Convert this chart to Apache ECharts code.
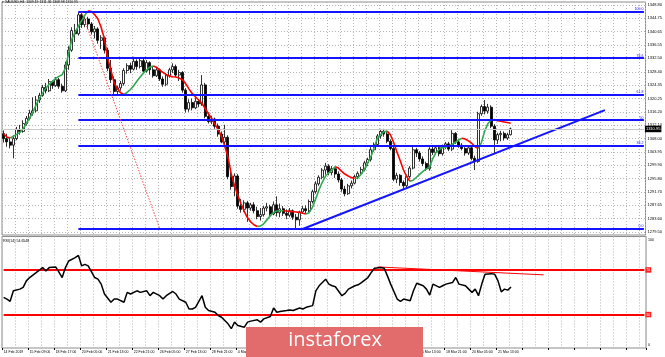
<!DOCTYPE html>
<html><head><meta charset="utf-8">
<script src="https://cdn.jsdelivr.net/npm/echarts@6/dist/echarts.min.js"></script>
<style>html,body{margin:0;padding:0;background:#fff}#c{width:665px;height:357px}</style>
</head><body><div id="c"></div>
<script>
// ---- data ----
const tickLabels = ['14 Feb 2019','15 Feb 09:00','18 Feb 17:00','20 Feb 05:00','21 Feb 13:00','22 Feb 21:00','26 Feb 05:00','27 Feb 13:00','28 Feb 21:00','4 Mar 05:00','5 Mar 13:00','6 Mar 21:00','8 Mar 05:00','11 Mar 13:00','12 Mar 21:00','14 Mar 05:00','15 Mar 13:00','18 Mar 21:00','20 Mar 05:00','21 Mar 13:00'];
const priceTicks = [1279.50,1283.60,1287.65,1291.70,1295.80,1299.90,1303.95,1308.00,1312.10,1316.20,1320.25,1324.35,1328.40,1332.50,1336.55,1340.65,1344.75,1348.80];
// [open, close, low, high]
const ohlc = [
[1309.5,1308.0,1306.8,1310.5],[1308.0,1307.0,1305.5,1309.5],[1307.0,1306.0,1305.0,1308.2],[1306.0,1308.0,1302.0,1309.0],
[1308.0,1310.8,1307.5,1311.6],[1310.8,1310.2,1309.2,1312.2],[1310.2,1312.6,1309.8,1313.6],[1312.6,1314.2,1312.0,1314.9],
[1314.2,1315.8,1313.6,1316.8],[1315.8,1316.5,1315.0,1320.6],[1316.5,1319.8,1316.0,1321.0],[1319.8,1321.2,1318.9,1322.0],
[1321.2,1323.6,1320.8,1324.4],[1323.6,1322.6,1321.8,1325.0],[1322.6,1325.4,1322.2,1326.2],[1325.4,1324.2,1323.2,1325.8],
[1324.2,1326.0,1323.8,1326.8],[1326.0,1324.0,1323.2,1326.5],[1324.0,1322.6,1322.0,1324.8],[1322.6,1330.5,1322.2,1331.5],
[1330.5,1335.0,1329.0,1336.2],[1335.0,1341.0,1334.5,1342.0],[1341.0,1340.0,1337.5,1343.0],[1340.0,1345.8,1339.5,1346.7],
[1345.8,1342.8,1341.8,1346.4],[1342.8,1344.5,1342.0,1345.4],[1344.5,1343.0,1341.5,1345.2],[1343.0,1340.6,1339.8,1343.6],
[1340.6,1341.5,1338.6,1342.4],[1341.5,1338.0,1337.0,1342.0],[1338.0,1338.8,1335.4,1339.6],[1338.8,1335.0,1334.0,1339.2],
[1335.0,1329.5,1328.6,1335.8],[1329.5,1326.0,1325.0,1332.0],[1326.0,1322.4,1321.2,1327.0],[1322.4,1323.5,1321.4,1324.2],
[1323.5,1324.8,1322.6,1325.6],[1324.8,1328.8,1324.2,1329.5],[1328.8,1330.3,1327.8,1331.0],[1330.3,1329.2,1328.0,1331.2],
[1329.2,1331.6,1328.8,1333.0],[1331.6,1330.0,1329.0,1332.2],[1330.0,1331.8,1329.4,1332.6],[1331.8,1328.6,1327.8,1332.6],
[1328.6,1331.2,1328.2,1332.0],[1331.2,1329.0,1327.5,1331.6],[1329.0,1327.2,1326.6,1330.0],[1327.2,1329.0,1326.8,1329.6],
[1329.0,1326.2,1325.6,1329.4],[1326.2,1324.6,1323.8,1327.0],[1324.6,1327.2,1324.0,1328.0],[1327.2,1329.0,1326.6,1329.6],
[1329.0,1330.0,1328.0,1331.0],[1330.0,1327.4,1326.8,1330.6],[1327.4,1328.2,1325.6,1329.0],[1328.2,1322.8,1322.0,1328.6],
[1322.8,1317.0,1316.0,1323.4],[1317.0,1319.0,1316.2,1320.0],[1319.0,1317.4,1316.6,1320.2],[1317.4,1319.4,1317.0,1320.6],
[1319.4,1318.6,1317.6,1320.0],[1318.6,1324.4,1318.0,1327.4],[1324.4,1314.8,1314.2,1325.0],[1314.8,1313.2,1312.6,1316.0],
[1313.2,1314.0,1312.4,1315.0],[1314.0,1311.8,1311.0,1314.4],[1311.8,1309.4,1308.6,1312.6],[1309.4,1307.0,1306.6,1310.2],
[1307.0,1308.4,1305.4,1312.2],[1308.4,1296.4,1295.6,1309.0],[1296.4,1293.4,1292.4,1297.8],[1293.4,1296.6,1290.4,1297.4],
[1296.6,1287.4,1286.6,1297.2],[1287.4,1286.4,1285.4,1289.6],[1286.4,1288.4,1285.6,1289.2],[1288.4,1286.8,1282.6,1289.0],
[1286.8,1287.8,1286.0,1288.4],[1287.8,1286.0,1285.2,1288.6],[1286.0,1284.2,1283.4,1287.2],[1284.2,1284.8,1283.0,1286.8],
[1284.8,1286.8,1284.2,1287.4],[1286.8,1287.2,1285.8,1288.4],[1287.2,1285.0,1284.4,1287.8],[1285.0,1287.8,1284.6,1288.8],
[1287.8,1285.4,1284.2,1290.4],[1285.4,1286.6,1284.0,1288.2],[1286.6,1285.2,1284.4,1287.4],[1285.2,1284.6,1283.4,1286.4],
[1284.6,1286.0,1284.0,1286.8],[1286.0,1284.0,1283.2,1286.4],[1284.0,1283.2,1280.6,1285.0],[1283.2,1285.6,1281.4,1286.0],
[1285.6,1286.6,1285.0,1287.4],[1286.6,1286.0,1285.2,1287.6],[1286.0,1288.8,1285.6,1289.4],[1288.8,1291.8,1288.2,1292.4],
[1291.8,1294.2,1291.2,1295.0],[1294.2,1296.2,1293.6,1296.8],[1296.2,1298.4,1295.6,1299.0],[1298.4,1299.6,1297.0,1300.6],
[1299.6,1297.6,1296.8,1300.2],[1297.6,1298.8,1296.8,1299.6],[1298.8,1297.2,1296.0,1299.4],[1297.2,1295.4,1294.6,1298.0],
[1295.4,1292.6,1291.8,1296.0],[1292.6,1291.2,1290.4,1293.6],[1291.2,1293.6,1290.8,1294.2],[1293.6,1294.4,1292.8,1295.2],
[1294.4,1296.4,1294.0,1297.0],[1296.4,1297.4,1295.6,1298.0],[1297.4,1298.6,1296.8,1299.4],[1298.6,1300.6,1298.0,1301.2],
[1300.6,1301.6,1299.6,1302.2],[1301.6,1304.6,1301.0,1305.4],[1304.6,1306.2,1304.0,1306.8],[1306.2,1308.8,1305.6,1309.4],
[1308.8,1310.2,1308.0,1311.0],[1310.2,1309.4,1308.6,1311.0],[1309.4,1307.2,1306.6,1310.0],[1307.2,1305.0,1304.4,1307.8],
[1305.0,1295.6,1295.0,1305.6],[1295.6,1296.8,1294.4,1297.6],[1296.8,1294.6,1293.6,1297.2],[1294.6,1293.6,1292.4,1295.2],
[1293.6,1296.4,1293.0,1297.0],[1296.4,1299.0,1295.8,1299.6],[1299.0,1304.6,1298.6,1306.0],[1304.6,1303.6,1302.4,1305.2],
[1303.6,1301.8,1301.0,1304.2],[1301.8,1300.4,1299.6,1302.6],[1300.4,1298.8,1298.2,1301.0],[1298.8,1304.8,1298.2,1305.4],
[1304.8,1303.8,1303.0,1305.8],[1303.8,1305.2,1303.2,1305.8],[1305.2,1303.4,1302.6,1305.8],[1303.4,1305.6,1302.8,1306.2],
[1305.6,1306.4,1304.8,1307.0],[1306.4,1304.8,1304.2,1307.0],[1304.8,1309.6,1304.2,1310.6],[1309.6,1307.0,1306.4,1310.0],
[1307.0,1306.0,1305.2,1307.6],[1306.0,1305.0,1304.4,1306.6],[1305.0,1303.6,1302.8,1305.4],[1303.6,1305.2,1303.0,1305.8],
[1305.2,1302.0,1301.4,1305.6],[1302.0,1301.0,1298.4,1302.8],[1301.0,1315.6,1300.6,1316.2],[1315.6,1317.8,1315.0,1318.4],
[1317.8,1316.4,1315.4,1319.8],[1316.4,1317.6,1315.6,1318.6],[1317.6,1311.8,1311.2,1318.2],[1311.8,1307.6,1303.4,1312.4],
[1307.6,1309.2,1306.4,1309.8],[1309.2,1309.6,1307.2,1310.4],[1309.6,1308.2,1307.4,1310.2],[1308.2,1309.2,1307.6,1309.8],
[1309.19,1310.95,1308.98,1311.36]
];
// smoothed moving average, one value per bar
const maValues = [
1309.5,1308.5,1308.2,1308.7,1309.3,1309.9,1311.0,1312.7,1314.3,1316.0,
1318.3,1320.3,1321.9,1323.4,1324.6,1325.4,1326.4,1327.0,1327.5,1329.5,
1334.0,1338.4,1340.5,1342.3,1344.0,1345.7,1347.0,1346.8,1345.9,1344.5,
1342.0,1338.5,1332.5,1329.0,1325.0,1323.2,1322.0,1321.5,1322.1,1323.0,
1324.1,1325.5,1326.8,1328.0,1329.0,1329.8,1330.2,1329.8,1329.0,1328.2,
1327.6,1327.1,1326.9,1326.8,1326.5,1326.0,1324.8,1323.2,1321.8,1320.8,
1319.8,1318.8,1317.2,1315.6,1314.2,1312.4,1310.8,1308.7,1305.8,1302.5,
1297.4,1293.8,1290.8,1288.2,1285.9,1283.9,1282.6,1281.7,1281.2,1281.3,
1282.0,1283.2,1284.4,1285.4,1285.9,1286.0,1286.0,1285.9,1285.8,1285.7,
1285.6,1285.5,1285.2,1285.0,1285.4,1287.0,1289.6,1292.3,1294.6,1296.5,
1297.5,1298.4,1299.4,1299.0,1298.0,1297.2,1296.6,1296.1,1295.9,1296.0,
1297.2,1298.6,1300.5,1302.5,1305.3,1308.1,1309.2,1310.1,1310.3,1309.2,
1306.8,1303.9,1301.3,1298.5,1296.4,1295.0,1295.3,1296.2,1297.1,1298.0,
1298.7,1299.3,1301.8,1303.7,1304.7,1305.2,1305.4,1305.8,1306.2,1306.9,
1307.6,1308.1,1307.9,1307.3,1306.6,1305.6,1305.0,1306.8,1310.3,1312.6,
1313.6,1313.8,1313.5,1313.3,1313.1,1312.9,1312.7
];
// RSI(14): [bar, value]
const rsiValues = [
[0,45.4],[1,43.9],[2,41.9],[3,51.3],[5,52.8],[6,54.3],[7,60.2],[8,63.2],[10,67.6],[12,72.1],[13,69.1],[14,72.1],[16,72.7],[17,68],[18,63.2],[19,72.1],[20,78],[22,81],[23,83],[24,73.6],[25,75],[26,73.6],[28,63.2],[29,61.7],[30,57.3],[31,48.4],[33,41],[34,43.9],[35,43.9],[37,41],[38,49.9],[39,48.4],[41,51.3],[42,49.9],[44,51.3],[45,46.9],[46,49.9],[48,46.9],[49,43.9],[50,46.9],[52,50.7],[53,48.4],[54,43.9],[56,41],[57,35],[58,35],[59,36.5],[61,46.9],[62,36.5],[63,33.6],[65,32.1],[66,29.1],[67,27.6],[69,21.7],[70,17.3],[71,23.2],[72,20.2],[74,18.7],[75,23.2],[76,24.1],[78,25.3],[79,23.2],[80,26.1],[82,28.2],[83,35.9],[84,32.1],[85,32.7],[87,33.6],[88,34.1],[89,33.6],[91,35.9],[92,35],[93,36.5],[95,38],[96,51.3],[97,55.8],[99,61.7],[100,57.3],[101,55.8],[102,54.9],[104,46.9],[105,49],[106,52.8],[108,55.8],[109,56.7],[110,58.7],[112,63.2],[113,67.6],[114,71.5],[116,72.1],[117,71.5],[118,64.7],[119,57.3],[121,43.9],[122,41.9],[123,43.9],[125,42.4],[126,51.3],[127,58.1],[129,55.8],[130,52.8],[131,47.5],[132,57.3],[134,54.3],[135,55.8],[136,57.3],[138,58.7],[139,63.2],[140,57.3],[142,55.8],[143,52.8],[144,49.9],[145,52.8],[146,46.9],[147,57.3],[148,66.1],[150,66.7],[151,66.1],[152,60.2],[153,50.4],[154,52.8],[155,51.9],[156,54.65]
];
const fibHigh = 1346.7, fibLow = 1280.6, fibStartBar = 23;
const fibRatios = [1, 0.786, 0.618, 0.5, 0.382, 0];
const fibLabels = ['100.0','78.6','61.8','50','38.2','0.0'];
const trendLine = [[92, 1280.4], [184.5, 1316.7]];
const fibDiagonal = [[24, 1346.7], [48, 1280.6]];
const rsiTrend = [[115, 72.7], [166, 65.6]];
const rsiLevels = [70, 30];
const lastPrice = 1310.95;
const titleText = '\u25BE XAUUSD,H4  1309.19 1311.36 1308.98 1310.95';
const rsiTitle = 'RSI(14) 54.6548';
const totalSlots = 198;

// ---- build ----
const cats = [];
for (let i = 0; i < totalSlots; i++) cats.push(String(i));
const maGreen = maValues.map((v, i) => ((i > 0 && v >= maValues[i-1]) || (i < maValues.length-1 && maValues[i+1] >= v)) ? v : null);
const maRed = maValues.map((v, i) => ((i > 0 && v < maValues[i-1]) || (i < maValues.length-1 && maValues[i+1] < v)) ? v : null);

const gridLine = {show: true, lineStyle: {color: '#b4b4b4', type: [1, 2], width: 1}};
const FONT = 'Liberation Sans';
const BLUE = '#1414ff';

const fibMarks = fibRatios.map((r, k) => {
  const lvl = fibLow + r * (fibHigh - fibLow);
  return [{coord: [fibStartBar, lvl], lineStyle: {color: BLUE, width: 2, type: 'solid'},
           label: {show: true, formatter: fibLabels[k], position: 'insideEndTop', distance: 0.5, color: BLUE, fontSize: 3.5, fontFamily: FONT}},
          {coord: [totalSlots - 1, lvl]}];
});

const chart = echarts.init(document.getElementById('c'), null, {renderer: 'canvas'});
chart.setOption({
  animation: false,
  backgroundColor: '#fff',
  textStyle: {fontFamily: FONT},
  title: [
    {text: titleText, left: 2, top: 1, padding: 0, textStyle: {fontSize: 3.4, fontWeight: 'normal', color: '#000', fontFamily: FONT}},
    {text: rsiTitle, left: 3, top: 239, padding: 0, textStyle: {fontSize: 3.6, fontWeight: 'normal', color: '#000', fontFamily: FONT}}
  ],
  grid: [
    {left: 2, right: 19, top: 2, height: 233, show: true, borderColor: '#8c8c8c', borderWidth: 1, backgroundColor: '#fff'},
    {left: 2, right: 19, top: 236.5, height: 111.5, show: true, borderColor: '#8c8c8c', borderWidth: 1, backgroundColor: '#fff'}
  ],
  xAxis: [
    {gridIndex: 0, type: 'category', data: cats, boundaryGap: true,
     axisLine: {show: false}, axisTick: {show: false}, axisLabel: {show: false},
     splitLine: Object.assign({interval: 3}, gridLine)},
    {gridIndex: 1, type: 'category', data: cats, boundaryGap: true,
     axisLine: {show: false},
     axisTick: {show: true, interval: 7, length: 2, lineStyle: {color: '#000'}},
     axisLabel: {show: true, interval: 7, align: 'left', margin: 2.5, fontSize: 3.5, color: '#000', fontFamily: FONT,
                 formatter: (v, i) => tickLabels[i / 8] || ''},
     splitLine: Object.assign({interval: 3}, gridLine)}
  ],
  yAxis: [
    {gridIndex: 0, type: 'value', position: 'right', min: 1278.58, max: 1349.71,
     axisLine: {show: false}, axisTick: {show: false, customValues: priceTicks},
     axisLabel: {customValues: priceTicks, fontSize: 4, margin: 2, color: '#000', fontFamily: FONT, formatter: v => v.toFixed(2)},
     splitLine: gridLine},
    {gridIndex: 1, type: 'value', position: 'right', min: 0, max: 100,
     axisLine: {show: false}, axisTick: {show: false, customValues: [0, 100]},
     axisLabel: {customValues: [0, 100], fontSize: 3.6, margin: 2, color: '#000', fontFamily: FONT,
                 formatter: v => v === 100 ? '{t|100}' : '{b|0}',
                 rich: {t: {fontSize: 3.6, padding: [6, 0, 0, 0]}, b: {fontSize: 3.6, padding: [0, 0, 6, 0]}}},
     splitLine: {show: false}}
  ],
  series: [
    {type: 'candlestick', xAxisIndex: 0, yAxisIndex: 0, data: ohlc, barWidth: 2.4, silent: true,
     itemStyle: {color: '#ffffff', color0: '#000000', borderColor: '#000000', borderColor0: '#000000', borderWidth: 0.8},
     markLine: {silent: true, symbol: ['none', 'none'], animation: false,
       data: fibMarks.concat([
         [{coord: fibDiagonal[0], lineStyle: {color: '#ff4040', width: 1, type: [1.5, 1.5]}, label: {show: false}}, {coord: fibDiagonal[1]}],
         [{coord: trendLine[0], lineStyle: {color: BLUE, width: 2, type: 'solid'}, label: {show: false}}, {coord: trendLine[1]}],
         [{coord: [0, lastPrice], lineStyle: {color: '#c8c8c8', width: 1, type: 'solid'},
           label: {show: true, position: 'end', formatter: lastPrice.toFixed(2), color: '#fff', backgroundColor: '#000', fontSize: 4, padding: [1.5, 1, 1, 1], distance: 1, fontFamily: FONT}},
          {coord: [totalSlots - 1, lastPrice]}]
       ])}},
    {type: 'line', xAxisIndex: 0, yAxisIndex: 0, data: maGreen, symbol: 'none', connectNulls: false, silent: true,
     lineStyle: {color: '#2fa84f', width: 1.6}, z: 3},
    {type: 'line', xAxisIndex: 0, yAxisIndex: 0, data: maRed, symbol: 'none', connectNulls: false, silent: true,
     lineStyle: {color: '#ff0000', width: 1.6}, z: 4},
    {type: 'line', xAxisIndex: 1, yAxisIndex: 1, data: rsiValues, symbol: 'none', silent: true,
     lineStyle: {color: '#000', width: 1.5}, z: 5,
     markLine: {silent: true, symbol: ['none', 'none'], animation: false,
       data: rsiLevels.map(l => [{coord: [0, l], lineStyle: {color: '#ff0000', width: 2, type: 'solid'},
            label: {show: true, position: 'end', formatter: String(l), color: '#fff', backgroundColor: '#ff2020', fontSize: 3.5, padding: [1, 1, 0.5, 1], distance: 1, fontFamily: FONT}},
           {coord: [totalSlots - 1, l]}]).concat([
         [{coord: rsiTrend[0], lineStyle: {color: '#ff0000', width: 1, type: 'solid'}, label: {show: false}}, {coord: rsiTrend[1]}]
       ])}}
  ],
  graphic: [
    {type: 'rect', left: 246, top: 327, shape: {width: 177, height: 32}, style: {fill: '#e26b6b'}, z: 100},
    {type: 'text', x: 335, y: 340, style: {text: 'instaforex', fill: '#fff', font: '20px "Open Sans"', textAlign: 'center', textVerticalAlign: 'middle'}, z: 101}
  ]
});
</script>
</body></html>
